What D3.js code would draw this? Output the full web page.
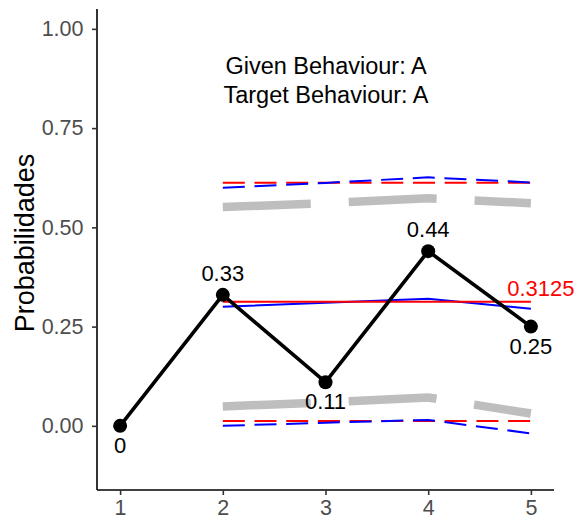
<!DOCTYPE html>
<html>
<head>
<meta charset="utf-8">
<script src="https://cdn.jsdelivr.net/npm/d3@7"></script>
<style>
  html, body { margin: 0; padding: 0; background: #fff; }
  svg { display: block; font-family: "Liberation Sans", Arial, sans-serif; }
</style>
</head>
<body>
<svg id="chart" width="583" height="521"></svg>
<script>
// Observed probabilities per step
const steps = [1, 2, 3, 4, 5];
const observed = [0, 0.33, 0.11, 0.44, 0.25];
const observedLabels = ["0", "0.33", "0.11", "0.44", "0.25"];

// Reference band (steps 2–5)
const bandSteps = [2, 3, 4, 5];
const expectedValue = 0.3125;
const expectedUpper = [0.6125, 0.6125, 0.6125, 0.6125];
const expectedLower = [0.0125, 0.0125, 0.0125, 0.0125];

// Model estimate and its bounds
const modelMean = [0.300, 0.310, 0.320, 0.295];
const modelUpper = [0.600, 0.612, 0.626, 0.613];
const modelLower = [0.000, 0.008, 0.015, -0.019];

// Grey envelope
const greyUpper = [0.551, 0.561, 0.573, 0.561];
const greyLower = [0.049, 0.059, 0.0715, 0.031];

const yTicks = [0, 0.25, 0.5, 0.75, 1];
const yTickLabels = ["0.00", "0.25", "0.50", "0.75", "1.00"];
const xTickLabels = ["1", "2", "3", "4", "5"];
const annotation = ["Given Behaviour: A", "Target Behaviour: A"];

const svg = d3.select("#chart");
const plotLeft = 97, plotRight = 554, plotTop = 9, plotBottom = 490;

const x = d3.scaleLinear().domain([0.775, 5.225]).range([plotLeft, plotRight]);
const y = d3.scaleLinear().domain([-0.1616, 1.05]).range([plotBottom, plotTop]);

const line = d3.line().x(d => x(d[0])).y(d => y(d[1]));
const pairs = (xs, ys) => xs.map((v, i) => [v, ys[i]]);

const g = svg.append("g");

// grey envelope, thick long dashes
[greyUpper, greyLower].forEach(vals => {
  g.append("path").attr("d", line(pairs(bandSteps, vals)))
    .attr("fill", "none").attr("stroke", "#BEBEBE").attr("stroke-width", 8.5)
    .attr("stroke-dasharray", "88,38").attr("stroke-linejoin", "round");
});

// expected value bounds (red dashed)
[expectedUpper, expectedLower].forEach(vals => {
  g.append("path").attr("d", line(pairs(bandSteps, vals)))
    .attr("fill", "none").attr("stroke", "#FF0000").attr("stroke-width", 2)
    .attr("stroke-dasharray", "22,9.7");
});

// model bounds (blue dashed)
[modelUpper, modelLower].forEach(vals => {
  g.append("path").attr("d", line(pairs(bandSteps, vals)))
    .attr("fill", "none").attr("stroke", "#0000FF").attr("stroke-width", 2)
    .attr("stroke-dasharray", "22,9.7");
});

// model mean (blue solid)
g.append("path").attr("d", line(pairs(bandSteps, modelMean)))
  .attr("fill", "none").attr("stroke", "#0000FF").attr("stroke-width", 2);

// expected value (red solid)
g.append("path").attr("d", line(bandSteps.map(s => [s, expectedValue])))
  .attr("fill", "none").attr("stroke", "#FF0000").attr("stroke-width", 2);

// observed series
g.append("path").attr("d", line(pairs(steps, observed)))
  .attr("fill", "none").attr("stroke", "#000").attr("stroke-width", 3.6)
  .attr("stroke-linejoin", "round");
g.selectAll("circle.obs").data(pairs(steps, observed)).enter()
  .append("circle").attr("class", "obs")
  .attr("cx", d => x(d[0])).attr("cy", d => y(d[1])).attr("r", 7).attr("fill", "#000");

// value labels: above for peaks, below otherwise
const above = [false, true, false, true, false];
g.selectAll("text.lab").data(pairs(steps, observed)).enter()
  .append("text").attr("class", "lab")
  .attr("x", d => x(d[0]))
  .attr("y", (d, i) => y(d[1]) + (above[i] ? -14 : 27))
  .attr("text-anchor", "middle")
  .attr("font-size", 22).attr("fill", "#000")
  .text((d, i) => observedLabels[i]);

// expected value label
g.append("text")
  .attr("x", x(5) + 10).attr("y", y(expectedValue) - 6)
  .attr("text-anchor", "middle")
  .attr("font-size", 22).attr("fill", "#FF0000")
  .text(String(expectedValue));

// annotation
annotation.forEach((t, i) => {
  g.append("text")
    .attr("x", 326).attr("y", 74 + i * 29)
    .attr("text-anchor", "middle")
    .attr("font-size", 23.5).attr("fill", "#000").text(t);
});

// axes
const yAxis = d3.axisLeft(y).tickValues(yTicks)
  .tickFormat((d, i) => yTickLabels[i]).tickSize(5).tickPadding(8.5);
const xAxis = d3.axisBottom(x).tickValues(steps)
  .tickFormat((d, i) => xTickLabels[i]).tickSize(5).tickPadding(5);

const ya = svg.append("g").attr("transform", `translate(${plotLeft},0)`).call(yAxis);
const xa = svg.append("g").attr("transform", `translate(0,${plotBottom})`).call(xAxis);

[ya, xa].forEach(a => {
  a.select(".domain").attr("stroke", "#000").attr("stroke-width", 1.6);
  a.selectAll(".tick line").attr("stroke", "#333").attr("stroke-width", 1.6);
  a.selectAll(".tick text").attr("fill", "#4D4D4D").attr("font-size", 21.5)
    .attr("font-family", "Liberation Sans, Arial, sans-serif");
});
ya.select(".domain").attr("d", `M0,${plotTop}V${plotBottom}`);
xa.select(".domain").attr("d", `M${plotLeft},0H${plotRight}`);

// axis title
svg.append("text")
  .attr("transform", `translate(33.5,243) rotate(-90)`)
  .attr("text-anchor", "middle")
  .attr("font-size", 27).attr("fill", "#000").text("Probabilidades");
</script>
</body>
</html>
